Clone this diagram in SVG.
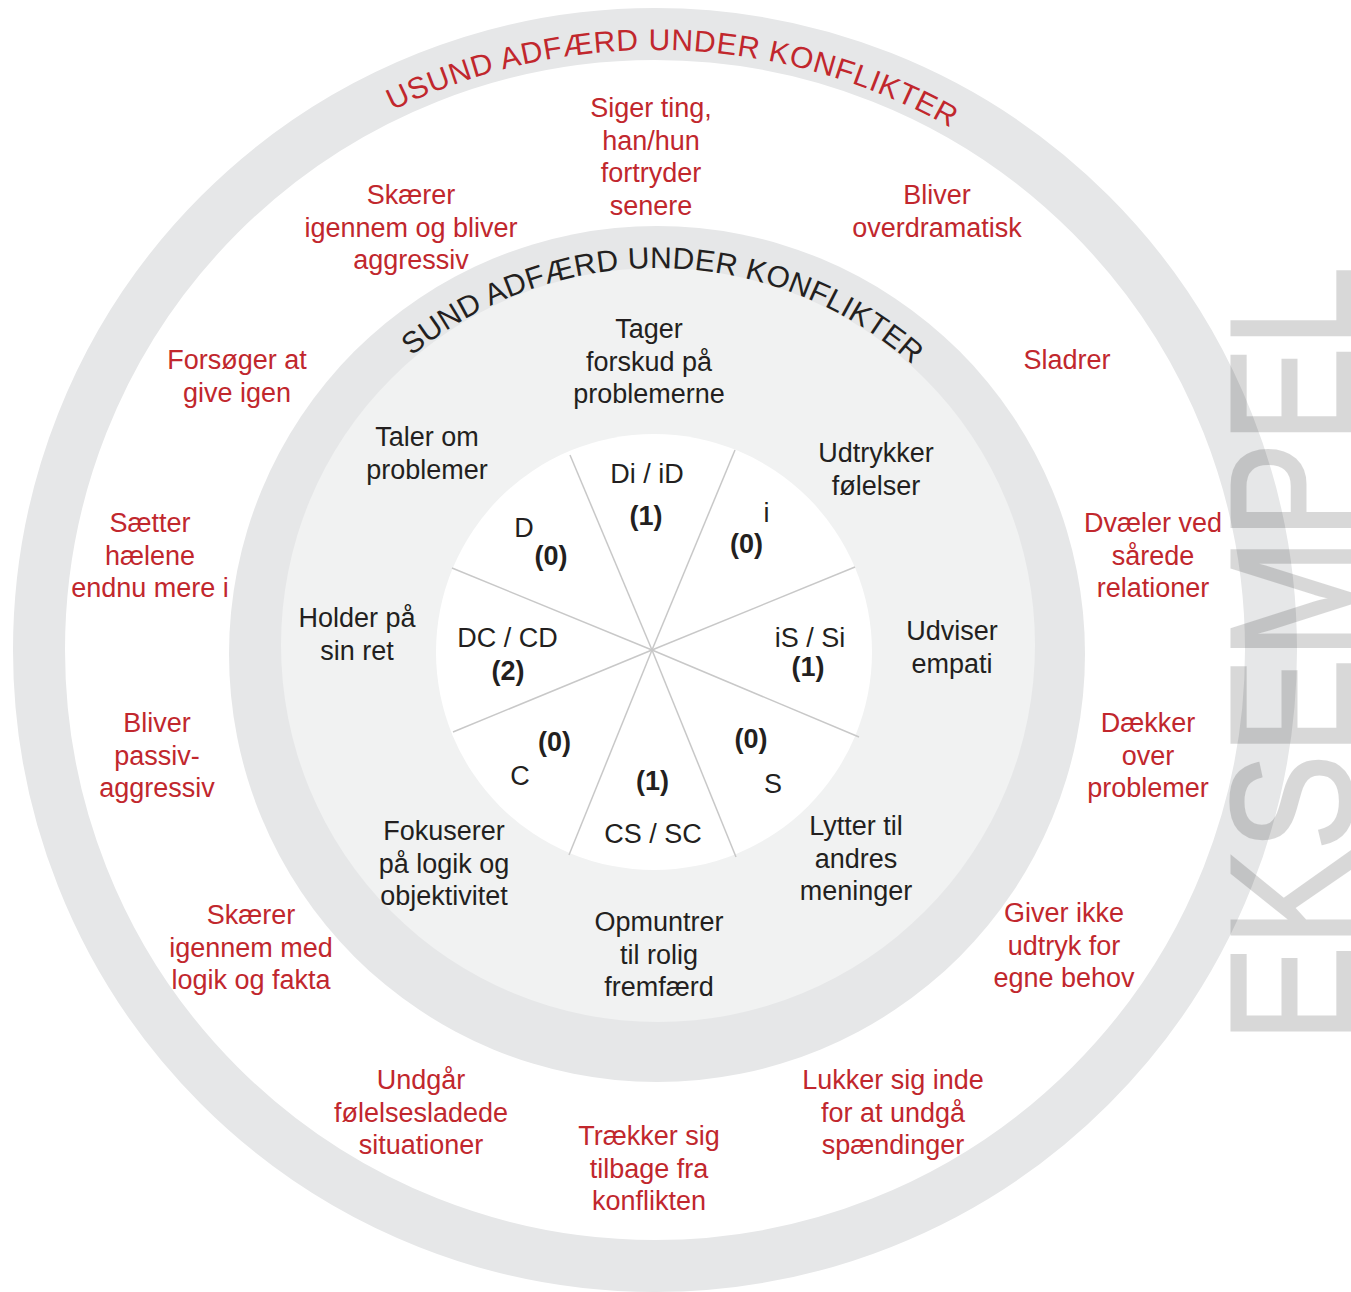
<svg xmlns="http://www.w3.org/2000/svg" width="1351" height="1292" viewBox="0 0 1351 1292">
<style>
text{font-family:"Liberation Sans",Arial,sans-serif;font-size:27px;text-anchor:middle}
.r{fill:#c1272d}
.k{fill:#231f20}
.b{font-weight:bold;fill:#231f20}
.arc{font-size:30px}
.spoke{stroke:#c8c8c8;stroke-width:1.5}
</style>
<defs>
<path id="outerArc" d="M 55 650 A 600 600 0 0 1 1255 650"/>
<path id="innerArc" d="M 271 654 A 386 386 0 0 1 1043 654"/>
</defs>
<rect width="1351" height="1292" fill="#fff"/>
<circle cx="655" cy="650" r="616" fill="none" stroke="#e6e7e8" stroke-width="52"/>
<circle cx="657" cy="654" r="428" fill="#e6e7e8"/>
<circle cx="658" cy="645" r="377" fill="#f1f2f2"/>
<circle cx="654" cy="652" r="218" fill="#fff"/>
<g id="connectors">
<line class="spoke" x1="652" y1="650" x2="570" y2="455"/>
<line class="spoke" x1="652" y1="650" x2="735" y2="450"/>
<line class="spoke" x1="652" y1="650" x2="855" y2="567"/>
<line class="spoke" x1="652" y1="650" x2="859" y2="737"/>
<line class="spoke" x1="652" y1="650" x2="736" y2="857"/>
<line class="spoke" x1="652" y1="650" x2="569" y2="855"/>
<line class="spoke" x1="652" y1="650" x2="453" y2="732"/>
<line class="spoke" x1="652" y1="650" x2="452" y2="568"/>
</g>
<g id="title-usund"><text class="r arc" letter-spacing="0.8"><textPath href="#outerArc" startOffset="51%">USUND ADFÆRD UNDER KONFLIKTER</textPath></text></g>
<g id="title-sund"><text class="k arc" font-size="30.5" letter-spacing="0.3"><textPath href="#innerArc" startOffset="50.56%">SUND ADFÆRD UNDER KONFLIKTER</textPath></text></g>

<g id="u1"><text class="r" x="651" y="117">Siger ting,<tspan x="651" dy="32.5">han/hun</tspan><tspan x="651" dy="32.5">fortryder</tspan><tspan x="651" dy="32.5">senere</tspan></text></g>
<g id="u2"><text class="r" x="411" y="204">Skærer<tspan x="411" dy="32.5">igennem og bliver</tspan><tspan x="411" dy="32.5">aggressiv</tspan></text></g>
<g id="u3"><text class="r" x="937" y="204">Bliver<tspan x="937" dy="32.5">overdramatisk</tspan></text></g>
<g id="u4"><text class="r" x="237" y="369">Forsøger at<tspan x="237" dy="32.5">give igen</tspan></text></g>
<g id="u5"><text class="r" x="1067" y="369">Sladrer</text></g>
<g id="u6"><text class="r" x="150" y="532">Sætter<tspan x="150" dy="32.5">hælene</tspan><tspan x="150" dy="32.5">endnu mere i</tspan></text></g>
<g id="u7"><text class="r" x="1153" y="532">Dvæler ved<tspan x="1153" dy="32.5">sårede</tspan><tspan x="1153" dy="32.5">relationer</tspan></text></g>
<g id="u8"><text class="r" x="157" y="732">Bliver<tspan x="157" dy="32.5">passiv-</tspan><tspan x="157" dy="32.5">aggressiv</tspan></text></g>
<g id="u9"><text class="r" x="1148" y="732">Dækker<tspan x="1148" dy="32.5">over</tspan><tspan x="1148" dy="32.5">problemer</tspan></text></g>
<g id="u10"><text class="r" x="251" y="924">Skærer<tspan x="251" dy="32.5">igennem med</tspan><tspan x="251" dy="32.5">logik og fakta</tspan></text></g>
<g id="u11"><text class="r" x="1064" y="922">Giver ikke<tspan x="1064" dy="32.5">udtryk for</tspan><tspan x="1064" dy="32.5">egne behov</tspan></text></g>
<g id="u12"><text class="r" x="421" y="1089">Undgår<tspan x="421" dy="32.5">følelsesladede</tspan><tspan x="421" dy="32.5">situationer</tspan></text></g>
<g id="u13"><text class="r" x="893" y="1089">Lukker sig inde<tspan x="893" dy="32.5">for at undgå</tspan><tspan x="893" dy="32.5">spændinger</tspan></text></g>
<g id="u14"><text class="r" x="649" y="1145">Trækker sig<tspan x="649" dy="32.5">tilbage fra</tspan><tspan x="649" dy="32.5">konflikten</tspan></text></g>

<g id="s1"><text class="k" x="649" y="338">Tager<tspan x="649" dy="32.5">forskud på</tspan><tspan x="649" dy="32.5">problemerne</tspan></text></g>
<g id="s2"><text class="k" x="427" y="446">Taler om<tspan x="427" dy="32.5">problemer</tspan></text></g>
<g id="s3"><text class="k" x="876" y="462">Udtrykker<tspan x="876" dy="32.5">følelser</tspan></text></g>
<g id="s4"><text class="k" x="357" y="627">Holder på<tspan x="357" dy="32.5">sin ret</tspan></text></g>
<g id="s5"><text class="k" x="952" y="640">Udviser<tspan x="952" dy="32.5">empati</tspan></text></g>
<g id="s6"><text class="k" x="444" y="840">Fokuserer<tspan x="444" dy="32.5">på logik og</tspan><tspan x="444" dy="32.5">objektivitet</tspan></text></g>
<g id="s7"><text class="k" x="856" y="835">Lytter til<tspan x="856" dy="32.5">andres</tspan><tspan x="856" dy="32.5">meninger</tspan></text></g>
<g id="s8"><text class="k" x="659" y="931">Opmuntrer<tspan x="659" dy="32.5">til rolig</tspan><tspan x="659" dy="32.5">fremfærd</tspan></text></g>

<g id="seg-Di"><text class="k" x="647" y="483">Di / iD</text><text class="b" x="646" y="525">(1)</text></g>
<g id="seg-i"><text class="k" x="766.5" y="522">i</text><text class="b" x="746.5" y="553">(0)</text></g>
<g id="seg-D"><text class="k" x="524" y="537">D</text><text class="b" x="551" y="565">(0)</text></g>
<g id="seg-DC"><text class="k" x="507.5" y="647">DC / CD</text><text class="b" x="508" y="680">(2)</text></g>
<g id="seg-iS"><text class="k" x="810" y="647">iS / Si</text><text class="b" x="808" y="676">(1)</text></g>
<g id="seg-C"><text class="k" x="520" y="785">C</text><text class="b" x="554.5" y="751">(0)</text></g>
<g id="seg-CS"><text class="b" x="652.5" y="790">(1)</text><text class="k" x="653" y="843">CS / SC</text></g>
<g id="seg-S"><text class="b" x="751" y="748">(0)</text><text class="k" x="773" y="793">S</text></g>

<g id="watermark" opacity="0.15">
<text x="0" y="0" transform="translate(1351,1042) rotate(-90) scale(0.836,1)" style="font-size:172px;text-anchor:start;fill:#000;stroke:#000;stroke-width:3;stroke-linejoin:miter">EKSEMPEL</text>
</g>
</svg>
